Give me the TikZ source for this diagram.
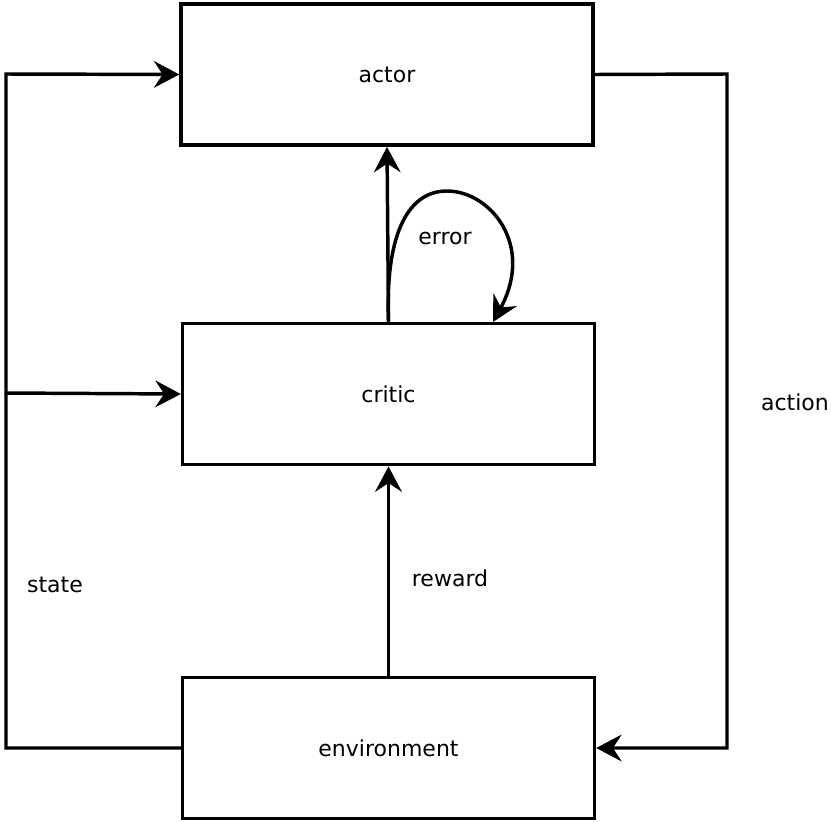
\documentclass[tikz,border=0pt]{standalone}
\usepackage{fontspec}
\setmainfont{DejaVu Sans}
\usetikzlibrary{arrows.meta}
\begin{document}
\begin{tikzpicture}[x=0.75pt,y=-0.75pt,
  box/.style={draw,line width=2.6pt,minimum width=309pt,minimum height=106pt,inner sep=0pt,font=\fontsize{16.5}{19}\selectfont},
  lbl/.style={font=\fontsize{16.5}{19}\selectfont,inner sep=0pt},
  conn/.style={line width=2.6pt,line join=miter},
  arr/.style={conn,-{Stealth[length=19pt,width=20pt,inset=6.5pt]}}]
\useasboundingbox (0,0) rectangle (831,821);
\node[box] (actor) at (387,74.5) {actor};
\node[box] (critic) at (388.5,394) {critic};
\node[box] (env) at (388.5,748) {environment};
\coordinate (lt) at (6,74);
\coordinate (jn) at (6,393);
\coordinate (rt) at (727,74);
\coordinate (ee) at (493,322);
\draw[arr] (env.west) -| (lt) -- (actor.west);
\draw[arr,line cap=round] (jn) -- (critic.west);
\draw[arr] (actor.east) -- (rt) |- (env.east);
\draw[arr] (critic.north) -- (actor.south);
\draw[arr] (env.north) -- (critic.south);
\draw[arr] (critic.north) .. controls (385,230) and (410,191) .. (447,191) .. controls (490,191) and (535,245) .. (ee);
\node[lbl] (lerr) at (445,238) {error};
\node[lbl] (lrew) at (450,578) {reward};
\node[lbl] (lst) at (55,585) {state};
\node[lbl] (lact) at (795,402) {action};
\end{tikzpicture}
\end{document}
